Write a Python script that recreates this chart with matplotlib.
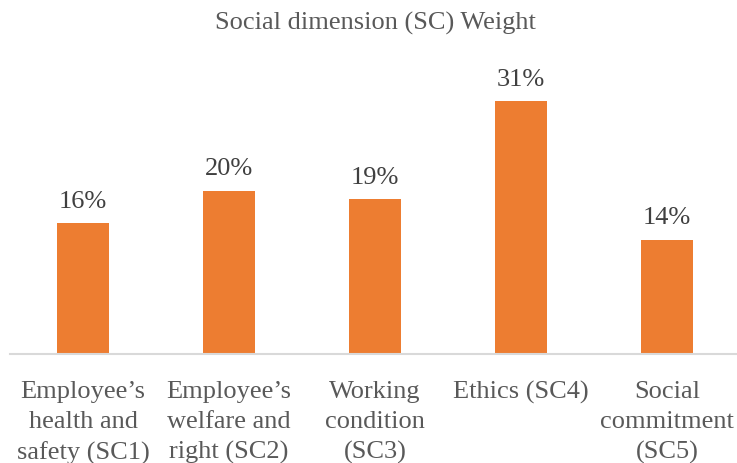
import matplotlib.pyplot as plt

categories = ["Employee\u2019s\nhealth and\nsafety (SC1)",
              "Employee\u2019s\nwelfare and\nright (SC2)",
              "Working\ncondition\n(SC3)",
              "Ethics (SC4)",
              "Social\ncommitment\n(SC5)"]
weights = [16, 20, 19, 31, 14]

plt.rcParams["font.family"] = ["Liberation Serif", "DejaVu Serif"]

fig = plt.figure(figsize=(7.37, 4.64), dpi=100)
ax = fig.add_axes([10 / 737, 109 / 464, 730 / 737, 286 / 464])

x = range(len(categories))
bars = ax.bar(x, weights, width=0.356, color="#ED7D31")

for b, w in zip(bars, weights):
    ax.annotate(f"{w}%", (b.get_x() + b.get_width() / 2, w),
                xytext=(0, 8), textcoords="offset points",
                ha="center", va="bottom", fontsize=19, color="#404040")

ax.set_xlim(-0.5, 4.5)
ax.set_ylim(0, 35)
ax.set_xticks(list(x))
ax.set_xticklabels(categories, fontsize=19, color="#595959", linespacing=1.45)
ax.tick_params(axis="x", length=0, pad=19)
ax.set_yticks([])

for s in ["top", "right", "left"]:
    ax.spines[s].set_visible(False)
ax.spines["bottom"].set_color("#D9D9D9")
ax.spines["bottom"].set_linewidth(1.5)

fig.text(375 / 737, 1 - 23 / 464, "Social dimension (SC) Weight",
         ha="center", va="center", fontsize=19, color="#595959")

fig.savefig("out.png", dpi=100)
